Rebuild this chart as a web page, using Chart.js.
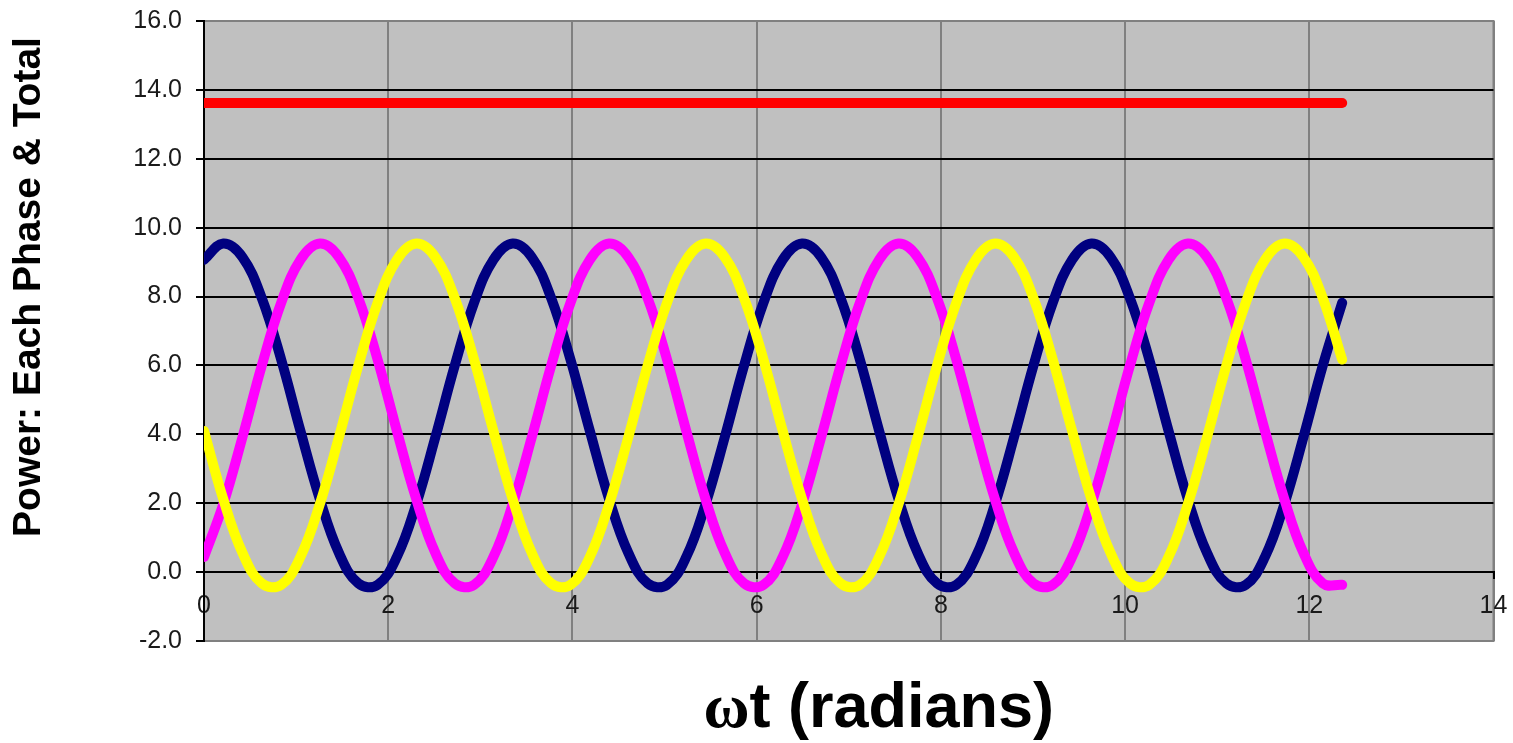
<!DOCTYPE html>
<html>
<head>
<meta charset="utf-8">
<script src="https://cdn.jsdelivr.net/npm/chart.js@4.4.1/dist/chart.umd.min.js"></script>
<style>
  html, body { margin: 0; padding: 0; background: #ffffff; }
  #wrap { width: 1513px; height: 743px; }
</style>
</head>
<body>
<div id="wrap"><canvas id="c" width="1513" height="743"></canvas></div>
<script>
// ---- data ----
const wt = [0.000,0.209,0.419,0.628,0.838,1.047,1.257,1.466,1.676,1.885,
            2.094,2.304,2.513,2.723,2.932,3.142,3.351,3.560,3.770,3.979,
            4.189,4.398,4.608,4.817,5.027,5.236,5.445,5.655,5.864,6.074,
            6.283,6.493,6.702,6.912,7.121,7.330,7.540,7.749,7.959,8.168,
            8.378,8.587,8.796,9.006,9.215,9.425,9.634,9.844,10.053,10.263,
            10.472,10.681,10.891,11.100,11.310,11.519,11.729,11.938,12.147,12.357];

const phaseA = [9.07,9.54,9.14,7.95,6.17,4.10,2.12,0.55,-0.33,-0.37,0.44,1.97,3.93,6.00,7.82,
                9.07,9.54,9.14,7.95,6.17,4.10,2.12,0.55,-0.33,-0.37,0.44,1.97,3.93,6.00,7.82,
                9.07,9.54,9.14,7.95,6.17,4.10,2.12,0.55,-0.33,-0.37,0.44,1.97,3.93,6.00,7.82,
                9.07,9.54,9.14,7.95,6.17,4.10,2.12,0.55,-0.33,-0.37,0.44,1.97,3.93,6.00,7.82];

const phaseB = [0.44,1.97,3.93,6.00,7.82,9.07,9.54,9.14,7.95,6.17,4.10,2.12,0.55,-0.33,-0.37,
                0.44,1.97,3.93,6.00,7.82,9.07,9.54,9.14,7.95,6.17,4.10,2.12,0.55,-0.33,-0.37,
                0.44,1.97,3.93,6.00,7.82,9.07,9.54,9.14,7.95,6.17,4.10,2.12,0.55,-0.33,-0.37,
                0.44,1.97,3.93,6.00,7.82,9.07,9.54,9.14,7.95,6.17,4.10,2.12,0.55,-0.33,-0.37];

const phaseC = [4.10,2.12,0.55,-0.33,-0.37,0.44,1.97,3.93,6.00,7.82,9.07,9.54,9.14,7.95,6.17,
                4.10,2.12,0.55,-0.33,-0.37,0.44,1.97,3.93,6.00,7.82,9.07,9.54,9.14,7.95,6.17,
                4.10,2.12,0.55,-0.33,-0.37,0.44,1.97,3.93,6.00,7.82,9.07,9.54,9.14,7.95,6.17,
                4.10,2.12,0.55,-0.33,-0.37,0.44,1.97,3.93,6.00,7.82,9.07,9.54,9.14,7.95,6.17];

const total = [13.62,13.62,13.62,13.62,13.62,13.62,13.62,13.62,13.62,13.62,
               13.62,13.62,13.62,13.62,13.62,13.62,13.62,13.62,13.62,13.62,
               13.62,13.62,13.62,13.62,13.62,13.62,13.62,13.62,13.62,13.62,
               13.62,13.62,13.62,13.62,13.62,13.62,13.62,13.62,13.62,13.62,
               13.62,13.62,13.62,13.62,13.62,13.62,13.62,13.62,13.62,13.62,
               13.62,13.62,13.62,13.62,13.62,13.62,13.62,13.62,13.62,13.62];

const xTicks = [0, 2, 4, 6, 8, 10, 12, 14];
const yTicks = [-2, 0, 2, 4, 6, 8, 10, 12, 14, 16];
const xTitle = 'ωt (radians)';
const yTitle = 'Power: Each Phase & Total';

// ---- rendering ----
const SANS = '"Liberation Sans", Arial, sans-serif';
const pts = arr => wt.map((x, i) => ({ x: x, y: arr[i] }));

const plotBg = {
  id: 'plotBg',
  beforeDraw(chart) {
    const { ctx, chartArea: a } = chart;
    ctx.save();
    ctx.fillStyle = '#c0c0c0';
    ctx.fillRect(a.left, a.top, a.right - a.left, a.bottom - a.top);
    ctx.strokeStyle = '#808080';
    ctx.lineWidth = 2;
    ctx.strokeRect(a.left, a.top, a.right - a.left, a.bottom - a.top);
    ctx.restore();
  }
};

const axisTitles = {
  id: 'axisTitles',
  afterDraw(chart) {
    const { ctx, chartArea: a } = chart;
    ctx.save();
    ctx.fillStyle = '#000000';
    // y title
    ctx.save();
    ctx.font = 'bold 39px ' + SANS;
    ctx.translate(29, (a.top + a.bottom) / 2 - 44);
    ctx.rotate(-Math.PI / 2);
    ctx.textAlign = 'center';
    ctx.textBaseline = 'middle';
    ctx.fillText(yTitle, 0, 0);
    ctx.restore();
    // x title (omega in serif, like the Symbol glyph of the original)
    const first = xTitle.charAt(0), rest = xTitle.slice(1);
    const fSerif = 'bold 63px "Liberation Serif", "DejaVu Serif", serif';
    const fSans = 'bold 63px ' + SANS;
    ctx.font = fSerif; const w1 = ctx.measureText(first).width;
    ctx.font = fSans;  const w2 = ctx.measureText(rest).width;
    const cx = (a.left + a.right) / 2 + 30;
    const baseY = 727;
    const x0 = cx - (w1 + w2) / 2;
    ctx.textAlign = 'left';
    ctx.textBaseline = 'alphabetic';
    ctx.font = fSerif; ctx.fillText(first, x0, baseY);
    ctx.font = fSans;  ctx.fillText(rest, x0 + w1, baseY);
    ctx.restore();
  }
};

new Chart(document.getElementById('c'), {
  type: 'line',
  data: {
    datasets: [
      { label: 'Phase A', data: pts(phaseA), borderColor: '#000080', order: 3 },
      { label: 'Phase B', data: pts(phaseB), borderColor: '#ff00ff', order: 2 },
      { label: 'Phase C', data: pts(phaseC), borderColor: '#ffff00', order: 1 },
      { label: 'Total',   data: pts(total),  borderColor: '#ff0000', order: 0 }
    ]
  },
  options: {
    responsive: false,
    animation: false,
    devicePixelRatio: 1,
    layout: { padding: { top: 21, right: 19.5, bottom: 102, left: 0 } },
    plugins: { legend: { display: false }, tooltip: { enabled: false }, title: { display: false } },
    elements: {
      point: { radius: 0, hoverRadius: 0 },
      line: { tension: 0.4, borderWidth: 10, borderCapStyle: 'round', borderJoinStyle: 'round', fill: false }
    },
    scales: {
      x: {
        type: 'linear',
        position: { y: 0 },
        min: xTicks[0],
        max: xTicks[xTicks.length - 1],
        ticks: {
          stepSize: xTicks[1] - xTicks[0],
          autoSkip: false,
          maxRotation: 0,
          padding: 13,
          color: '#1a1a1a',
          font: { family: SANS, size: 25 },
          callback: v => String(v)
        },
        grid: { color: '#808080', lineWidth: 2, tickColor: '#000000', tickLength: 6 },
        border: { color: '#000000', width: 2 },
        afterFit(s) { s.paddingLeft = 0; s.paddingRight = 0; s.paddingTop = 0; s.paddingBottom = 0; }
      },
      y: {
        type: 'linear',
        position: 'left',
        min: yTicks[0],
        max: yTicks[yTicks.length - 1],
        ticks: {
          stepSize: yTicks[1] - yTicks[0],
          padding: 14,
          color: '#1a1a1a',
          font: { family: SANS, size: 25 },
          callback: v => Number(v).toFixed(1)
        },
        grid: {
          color: c => (c.tick && (c.tick.value === yTicks[0] || c.tick.value === yTicks[yTicks.length - 1])) ? '#808080' : '#000000',
          lineWidth: 2,
          tickColor: '#000000',
          tickLength: 8
        },
        border: { color: '#000000', width: 2 },
        afterFit(s) { s.width = 204; s.paddingTop = 0; s.paddingBottom = 0; }
      }
    }
  },
  plugins: [plotBg, axisTitles]
});
</script>
</body>
</html>
